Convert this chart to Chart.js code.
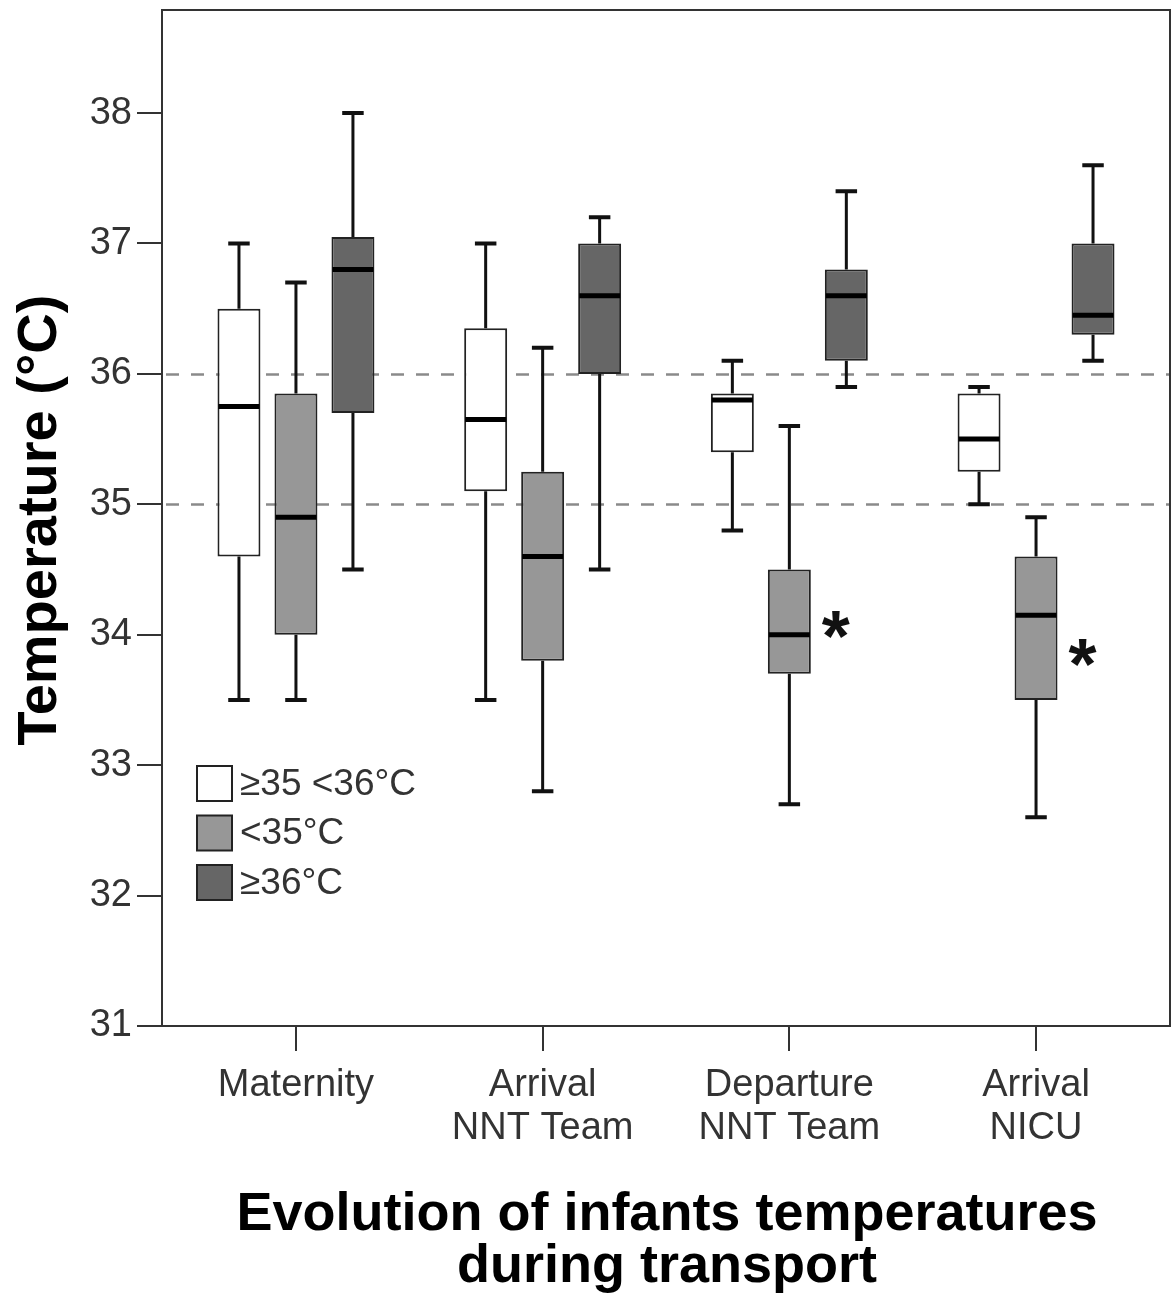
<!DOCTYPE html>
<html><head><meta charset="utf-8">
<script src="https://cdn.jsdelivr.net/npm/chart.js@4"></script>
<style>html,body{margin:0;padding:0;background:#fff}</style>
</head><body>
<canvas id="c" width="1176" height="1293" style="width:1176px;height:1293px;display:block"></canvas>
<script>
// ---------- data ----------
const categories = [['Maternity'], ['Arrival', 'NNT Team'], ['Departure', 'NNT Team'], ['Arrival', 'NICU']];
const seriesNames = ['≥35 <36°C', '<35°C', '≥36°C'];
// each entry: [min, q1, median, q3, max]
const normalRange = [[33.5, 34.6, 35.75, 36.5, 37.0], [33.5, 35.1, 35.65, 36.35, 37.0], [34.8, 35.4, 35.8, 35.85, 36.1], [35.0, 35.25, 35.5, 35.85, 35.9]];
const below35 = [[33.5, 34.0, 34.9, 35.85, 36.7], [32.8, 33.8, 34.6, 35.25, 36.2], [32.7, 33.7, 34.0, 34.5, 35.6], [32.6, 33.5, 34.15, 34.6, 34.9]];
const above36 = [[34.5, 35.7, 36.8, 37.05, 38.0], [34.5, 36.0, 36.6, 37.0, 37.2], [35.9, 36.1, 36.6, 36.8, 37.4], [36.1, 36.3, 36.45, 37.0, 37.6]];
const yTicks = [31, 32, 33, 34, 35, 36, 37, 38];
const refLines = [35, 36];
const asteriskAt = [null, null, 34.08, 33.86]; // '*' beside the <35°C box
const xTitle = ['Evolution of infants temperatures', 'during transport'];
const yTitle = 'Temperature (°C)';

// ---------- styles ----------
const FONT = '"Liberation Sans", Arial, Helvetica, sans-serif';
const fills = ['#ffffff', '#979797', '#666666'];
const seriesData = [normalRange, below35, above36];

const datasets = seriesData.map((s, k) => ({
  label: seriesNames[k],
  data: s.map((r, i) => ({ x: i, y: [r[1], r[3]] })),
  stats: s,
  backgroundColor: fills[k],
  borderColor: '#222',
  borderWidth: 2,
  borderSkipped: false
}));

const boxPlugin = {
  id: 'boxExtras',
  beforeDatasetsDraw(chart) {
    const { ctx, chartArea: a, scales: { y } } = chart;
    ctx.save();
    ctx.strokeStyle = '#8a8a8a';
    ctx.lineWidth = 2.5;
    ctx.setLineDash([13, 12]);
    refLines.forEach(v => {
      const py = Math.round(y.getPixelForValue(v)) + 0.5;
      ctx.beginPath(); ctx.moveTo(a.left + 4, py); ctx.lineTo(a.right, py); ctx.stroke();
    });
    ctx.restore();
    // whiskers (behind boxes)
    ctx.save();
    ctx.strokeStyle = '#111';
    chart.data.datasets.forEach((ds, d) => {
      const meta = chart.getDatasetMeta(d);
      meta.data.forEach((el, j) => {
        const st = ds.stats[j];
        const x = el.x;
        const pMin = y.getPixelForValue(st[0]), pQ1 = y.getPixelForValue(st[1]);
        const pQ3 = y.getPixelForValue(st[3]), pMax = y.getPixelForValue(st[4]);
        ctx.lineWidth = 3;
        ctx.beginPath();
        ctx.moveTo(x, pMax); ctx.lineTo(x, pQ3);
        ctx.moveTo(x, pQ1); ctx.lineTo(x, pMin);
        ctx.stroke();
        ctx.lineWidth = 4;
        const cw = el.width * 0.5;
        ctx.beginPath();
        ctx.moveTo(x - cw / 2, pMax); ctx.lineTo(x + cw / 2, pMax);
        ctx.moveTo(x - cw / 2, pMin); ctx.lineTo(x + cw / 2, pMin);
        ctx.stroke();
      });
    });
    ctx.restore();
  },
  afterDatasetsDraw(chart) {
    const { ctx, scales: { y } } = chart;
    ctx.save();
    ctx.strokeStyle = '#000';
    ctx.lineWidth = 5;
    chart.data.datasets.forEach((ds, d) => {
      const meta = chart.getDatasetMeta(d);
      meta.data.forEach((el, j) => {
        const st = ds.stats[j];
        const pm = y.getPixelForValue(st[2]);
        ctx.beginPath();
        ctx.moveTo(el.x - el.width / 2 + 1, pm); ctx.lineTo(el.x + el.width / 2 - 1, pm);
        ctx.stroke();
      });
    });
    // asterisks beside <35°C boxes
    const meta1 = chart.getDatasetMeta(1);
    ctx.fillStyle = '#111';
    ctx.font = 'bold 72px ' + FONT;
    ctx.textAlign = 'left';
    ctx.textBaseline = 'alphabetic';
    asteriskAt.forEach((v, j) => {
      if (v == null) return;
      const el = meta1.data[j];
      const cx = el.x + el.width / 2 + 25;
      const cy = y.getPixelForValue(v);
      const m = ctx.measureText('*');
      const gx = cx - (m.actualBoundingBoxRight - m.actualBoundingBoxLeft) / 2;
      const gy = cy + (m.actualBoundingBoxAscent - m.actualBoundingBoxDescent) / 2;
      ctx.fillText('*', gx, gy);
    });
    ctx.restore();
  },
  afterDraw(chart) {
    const { ctx, chartArea: a } = chart;
    ctx.save();
    // frame
    ctx.strokeStyle = '#333';
    ctx.lineWidth = 2;
    ctx.strokeRect(a.left, a.top, a.right - a.left, a.bottom - a.top);
    // legend
    const lx = 197, ly0 = 766, step = 49.5, sz = 35;
    ctx.font = '37px ' + FONT;
    ctx.textBaseline = 'middle';
    ctx.textAlign = 'left';
    chart.data.datasets.forEach((ds, k) => {
      const yy = ly0 + k * step;
      ctx.fillStyle = ds.backgroundColor;
      ctx.fillRect(lx, yy, sz, sz);
      ctx.strokeStyle = '#222'; ctx.lineWidth = 2;
      ctx.strokeRect(lx, yy, sz, sz);
      ctx.fillStyle = '#333';
      ctx.fillText(ds.label, lx + 43, yy + sz / 2 + 1);
    });
    // axis titles
    ctx.fillStyle = '#000';
    ctx.font = 'bold 54px ' + FONT;
    ctx.textAlign = 'center';
    ctx.textBaseline = 'alphabetic';
    ctx.fillText(xTitle[0], 667, 1230);
    ctx.fillText(xTitle[1], 667, 1282);
    ctx.save();
    ctx.translate(56, 520);
    ctx.rotate(-Math.PI / 2);
    ctx.font = 'bold 56px ' + FONT;
    ctx.fillText(yTitle, 0, 0);
    ctx.restore();
    ctx.restore();
  }
};

new Chart(document.getElementById('c'), {
  type: 'bar',
  data: { datasets },
  options: {
    responsive: false,
    animation: false,
    devicePixelRatio: 1,
    categoryPercentage: 0.693,
    barPercentage: 0.754,
    layout: { padding: { top: 10, right: 6, left: 0, bottom: 0 } },
    plugins: { legend: { display: false }, tooltip: { enabled: false } },
    scales: {
      x: {
        type: 'linear',
        offset: false,
        min: -0.543,
        max: 3.543,
        afterBuildTicks: s => { s.ticks = categories.map((c, i) => ({ value: i })); },
        afterFit: s => { s.height = 267; s.paddingLeft = 0; s.paddingRight = 0; },
        grid: { offset: false, drawOnChartArea: false, drawTicks: true, tickLength: 25, color: '#333', lineWidth: 2 },
        border: { display: true, color: '#333', width: 2 },
        ticks: {
          callback: (v) => categories[v],
          color: '#333',
          font: { family: FONT, size: 38, lineHeight: 1.13 },
          padding: 13,
          maxRotation: 0,
          autoSkip: false
        }
      },
      y: {
        type: 'linear',
        min: 31,
        max: 38.79,
        afterBuildTicks: s => { s.ticks = yTicks.map(v => ({ value: v })); },
        afterFit: s => { s.width = 162; s.paddingTop = 0; s.paddingBottom = 0; },
        grid: { drawOnChartArea: false, drawTicks: true, tickLength: 25, color: '#333', lineWidth: 2 },
        border: { display: true, color: '#333', width: 2 },
        ticks: {
          color: '#333',
          font: { family: FONT, size: 38 },
          padding: 5
        }
      }
    }
  },
  plugins: [boxPlugin]
});
</script>
</body></html>
